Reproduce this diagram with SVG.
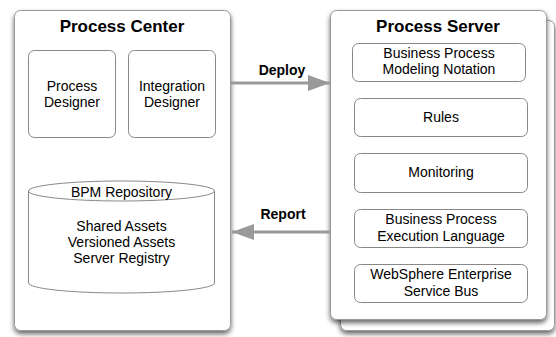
<svg xmlns="http://www.w3.org/2000/svg" width="556" height="337" viewBox="0 0 556 337">
<defs>
<filter id="sh" x="-10%" y="-10%" width="120%" height="120%">
<feDropShadow dx="0" dy="3" stdDeviation="2.5" flood-color="#000" flood-opacity="0.6"/>
</filter>
<marker id="ah" markerWidth="22" markerHeight="16" refX="22" refY="8" orient="auto" markerUnits="userSpaceOnUse">
<path d="M0,0 L22,8 L0,16 Z" fill="#999"/>
</marker>
</defs>
<style>
.outer{fill:#fff;stroke:#999;stroke-width:1;}
.inner{fill:#fff;stroke:#888;stroke-width:1;}
text{font-family:"Liberation Sans",Arial,sans-serif;fill:#000;text-anchor:middle;}
.t{font-size:17px;font-weight:bold;}
.l{font-size:14px;font-weight:bold;}
.n{font-size:14px;}
.conn{stroke:#999;stroke-width:3;fill:none;}
</style>
<g id="process-center">
<rect class="outer" x="14.5" y="10.5" width="216" height="320" rx="6" filter="url(#sh)"/>
<text class="t" x="122" y="32">Process Center</text>
</g>
<g id="process-designer">
<rect class="inner" x="28.5" y="50.5" width="87" height="87" rx="6"/>
<text class="n" x="72" y="91">Process</text>
<text class="n" x="72" y="107">Designer</text>
</g>
<g id="integration-designer">
<rect class="inner" x="128.5" y="50.5" width="87" height="87" rx="6"/>
<text class="n" x="172" y="91">Integration</text>
<text class="n" x="172" y="107">Designer</text>
</g>
<g id="bpm-repository">
<path class="inner" d="M28.5,191 L28.5,283 A93,10 0 0 0 214.5,283 L214.5,191"/>
<ellipse class="inner" cx="121.5" cy="191" rx="93" ry="10"/>
<text class="n" x="121.5" y="197">BPM Repository</text>
<text class="n" x="121.5" y="231">Shared Assets</text>
<text class="n" x="121.5" y="247">Versioned Assets</text>
<text class="n" x="121.5" y="263">Server Registry</text>
</g>
<g id="process-server">
<rect class="outer" x="340.5" y="20.5" width="214" height="310" rx="6" filter="url(#sh)"/>
<rect class="outer" x="330.5" y="10.5" width="216" height="309" rx="6" filter="url(#sh)"/>
<text class="t" x="438" y="32">Process Server</text>
</g>
<g id="bpmn">
<rect class="inner" x="352.5" y="43.5" width="173" height="38" rx="6"/>
<text class="n" x="439" y="58">Business Process</text>
<text class="n" x="439" y="74">Modeling Notation</text>
</g>
<g id="rules">
<rect class="inner" x="354.5" y="98.5" width="173" height="38" rx="6"/>
<text class="n" x="441" y="122">Rules</text>
</g>
<g id="monitoring">
<rect class="inner" x="354.5" y="153.5" width="173" height="39" rx="6"/>
<text class="n" x="441" y="177">Monitoring</text>
</g>
<g id="bpel">
<rect class="inner" x="354.5" y="209.5" width="173" height="38" rx="6"/>
<text class="n" x="441" y="224">Business Process</text>
<text class="n" x="441" y="241">Execution Language</text>
</g>
<g id="wesb">
<rect class="inner" x="354.5" y="264.5" width="173" height="38" rx="6"/>
<text class="n" x="441" y="279">WebSphere Enterprise</text>
<text class="n" x="441" y="296">Service Bus</text>
</g>
<g id="connectors">
<line class="conn" x1="231" y1="83" x2="330" y2="83" marker-end="url(#ah)"/>
<text class="l" x="282" y="75">Deploy</text>
<line class="conn" x1="330" y1="232" x2="232" y2="232" marker-end="url(#ah)"/>
<text class="l" x="283" y="219">Report</text>
</g>
</svg>
